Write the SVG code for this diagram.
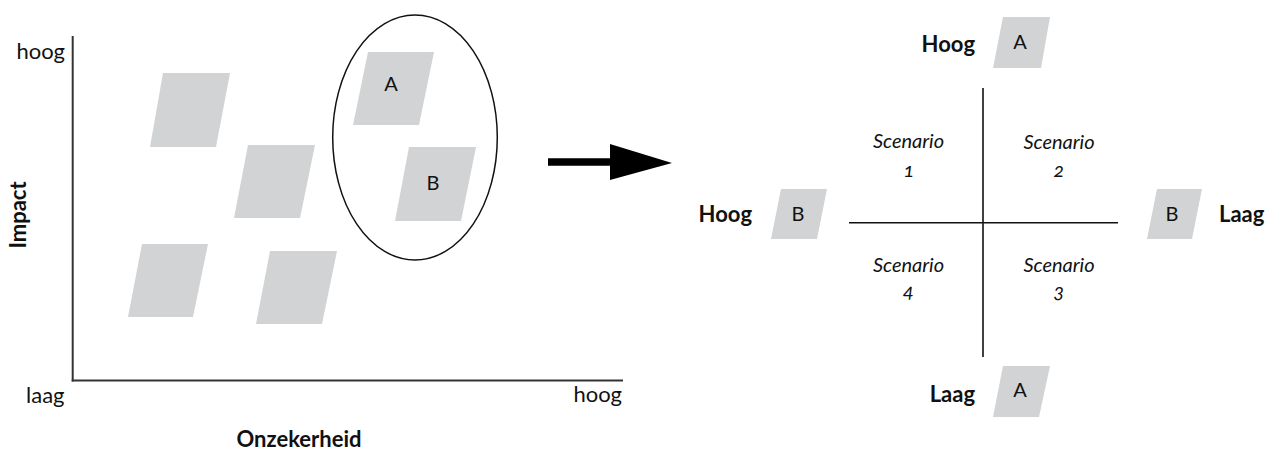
<svg xmlns="http://www.w3.org/2000/svg" width="1265" height="454" viewBox="0 0 1265 454">
<style>
text{font-family:Lato,"Open Sans","Liberation Sans",sans-serif;fill:#111}
.lbl{font-size:22px}
.bold{font-size:22px;font-weight:bold}
.card{fill:#d1d3d4;stroke:none}
.cl{font-size:20px;text-anchor:middle}
.sc{font-size:20px;font-style:italic;text-anchor:middle}
.num{font-size:20px;font-style:italic;text-anchor:middle;font-variant-numeric:oldstyle-nums}
.axis{stroke:#333;stroke-width:2;fill:none}
.q{stroke:#111;stroke-width:1.6;fill:none}
</style>
<g id="chart-axes">
<line class="axis" x1="72.7" y1="36" x2="72.7" y2="381.5"/>
<line class="axis" x1="71.7" y1="380.5" x2="623" y2="380.5"/>
<text class="lbl" x="65" y="59" text-anchor="end">hoog</text>
<text class="lbl" x="26" y="403">laag</text>
<text class="lbl" x="622" y="402" text-anchor="end">hoog</text>
<text class="bold" x="299" y="447" text-anchor="middle">Onzekerheid</text>
<text class="bold" transform="translate(26 215) rotate(-90)" text-anchor="middle">Impact</text>
</g>
<g id="card-1"><polygon class="card" points="163,73 230,73 216,147 150,147"/></g>
<g id="card-2"><polygon class="card" points="248,145 315,145 300,218 234,218"/></g>
<g id="card-3"><polygon class="card" points="142,244 208,244 193,317 128,317"/></g>
<g id="card-4"><polygon class="card" points="270,251 337,251 322,324 256,324"/></g>
<g id="selection">
<ellipse cx="415" cy="137.5" rx="82.3" ry="122.5" fill="none" stroke="#111" stroke-width="1.5"/>
</g>
<g id="card-A"><polygon class="card" points="368,52 434,52 419,125 353,125"/><text class="cl" x="391" y="91">A</text></g>
<g id="card-B"><polygon class="card" points="409,147 476,147 461,221 395,221"/><text class="cl" x="433" y="190">B</text></g>
<g id="connectors">
<line x1="548" y1="162" x2="612" y2="162" stroke="#000" stroke-width="7.5"/>
<polygon points="610,144 672,163 610,180" fill="#000"/>
</g>
<g id="quadrant">
<line class="q" x1="983" y1="88" x2="983" y2="357"/>
<line class="q" x1="849" y1="222.7" x2="1118" y2="222.7"/>
</g>
<g id="scenario-1"><text class="sc" x="908.5" y="148">Scenario</text><text class="num" x="909" y="177">1</text></g>
<g id="scenario-2"><text class="sc" x="1059" y="149">Scenario</text><text class="num" x="1059" y="177">2</text></g>
<g id="scenario-3"><text class="sc" x="1059" y="272">Scenario</text><text class="num" x="1059" y="298">3</text></g>
<g id="scenario-4"><text class="sc" x="908.5" y="272">Scenario</text><text class="num" x="908.5" y="298">4</text></g>
<g id="top-A"><text class="bold" x="975" y="52" text-anchor="end">Hoog</text><polygon class="card" points="1003,17 1050,17 1041,68 993,68"/><text class="cl" x="1020" y="49">A</text></g>
<g id="left-B"><text class="bold" x="752" y="222" text-anchor="end">Hoog</text><polygon class="card" points="781,189 827,189 817,239 771,239"/><text class="cl" x="798" y="221">B</text></g>
<g id="right-B"><polygon class="card" points="1157,189 1202,189 1192,239 1147,239"/><text class="cl" x="1172" y="221">B</text><text class="bold" x="1219" y="222">Laag</text></g>
<g id="bottom-A"><text class="bold" x="975" y="402" text-anchor="end">Laag</text><polygon class="card" points="1003,366 1050,366 1039,417 993,417"/><text class="cl" x="1020" y="397">A</text></g>
</svg>
